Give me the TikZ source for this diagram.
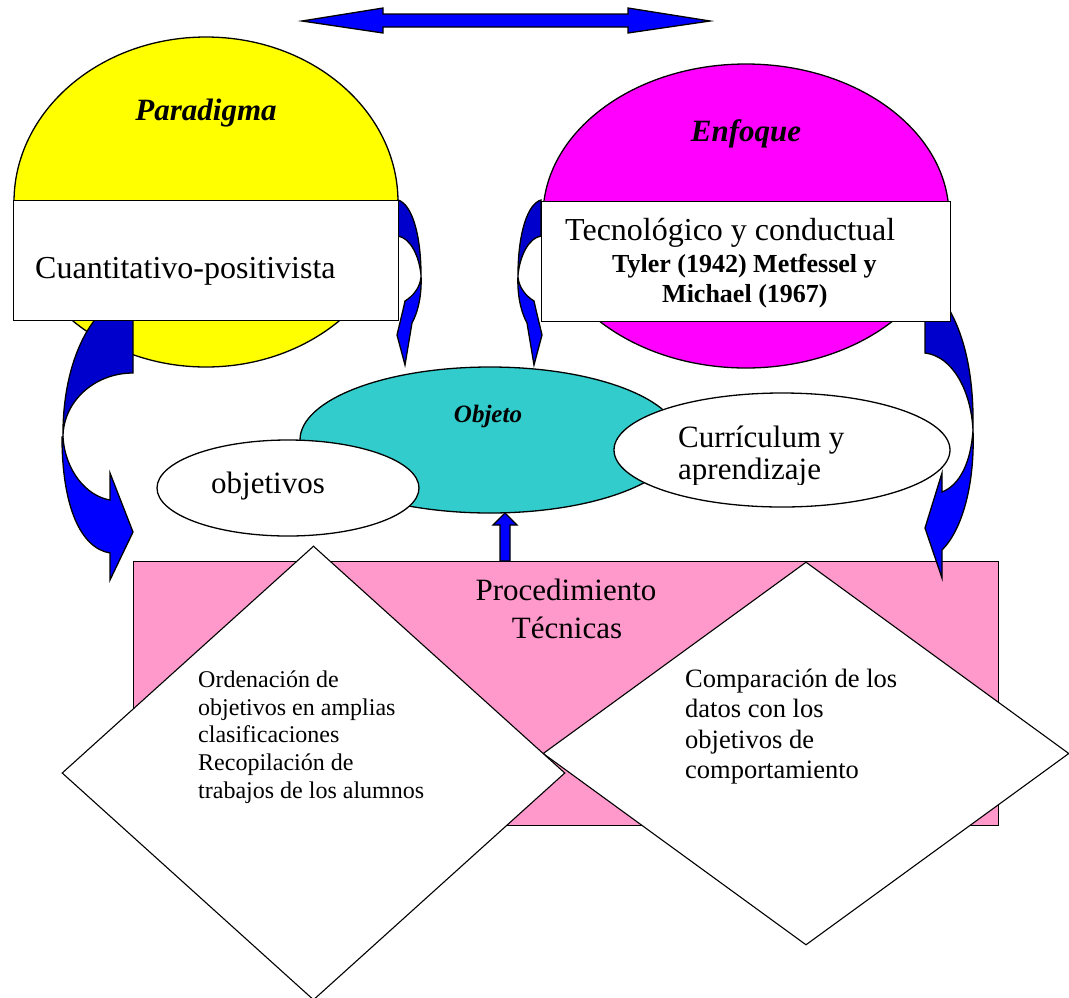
\documentclass[tikz,border=0pt]{standalone}
\usepackage{fontspec}
\setmainfont{Liberation Serif}
\usetikzlibrary{shapes.geometric}
\definecolor{yel}{RGB}{255,255,0}
\definecolor{mag}{RGB}{255,0,255}
\definecolor{tealc}{RGB}{51,204,204}
\definecolor{pinkc}{RGB}{255,153,204}
\definecolor{blu}{RGB}{0,0,255}
\definecolor{dblu}{RGB}{0,0,204}
\newcommand\myfs[1]{\fontsize{#1}{#1}\selectfont}
\begin{document}
\begin{tikzpicture}[x=1pt,y=-1pt,line join=miter,
  outl/.style={draw=black,line width=1.3pt},
  ell/.style={outl,ellipse,inner sep=0pt},
  box/.style={outl,rectangle,inner sep=0pt,anchor=north west},
  dia/.style={draw=black,line width=1.1pt,diamond,fill=white,inner sep=0pt},
  txt/.style={inner sep=0pt,anchor=base west},
  blk/.style={outl,fill=blu},
  dblk/.style={outl,fill=dblu}]
\useasboundingbox (0,0) rectangle (1069,997);

% top double arrow
\draw[blk] (302,21) -- (383,8) -- (383,14) -- (628,14) -- (628,8) -- (710,21)
  -- (628,33) -- (628,27) -- (383,27) -- (383,33) -- cycle;

% big ellipses
\node[ell,fill=yel,minimum width=384pt,minimum height=330pt] (para) at (206,202) {};
\node[ell,fill=mag,minimum width=406pt,minimum height=304pt] (enf) at (746,216) {};

% pink rectangle
\node[box,fill=pinkc,minimum width=865pt,minimum height=264pt] (proc) at (133,561) {};

% left big curved arrow
\draw[dblk] (133,298) -- (133,373) .. controls (94,373) and (63,402) .. (63,437)
  .. controls (62,360) and (94,298) .. (133,298) -- cycle;
\draw[blk] (63,437) .. controls (65,470) and (86,496) .. (110,500) -- (110,473)
  -- (133,532) -- (110,580) -- (110,553) .. controls (80,548) and (62,505) .. (62,437) -- cycle;

% right big curved arrow
\draw[dblk] (925,310) -- (925,353) .. controls (952,356) and (971,390) .. (973,430)
  .. controls (974,380) and (966,340) .. (950,311) -- cycle;
\draw[blk] (973,430) .. controls (971,462) and (960,485) .. (942,492) -- (942,473)
  -- (925,528) -- (942,578) -- (942,550) .. controls (962,530) and (975,485) .. (973,430) -- cycle;

% small left arrow
\draw[dblk] (398,200) .. controls (412,204) and (421,235) .. (421,275)
  .. controls (419,255) and (410,238) .. (398,236) -- cycle;
\draw[blk] (421,275) .. controls (422,295) and (418,312) .. (412,323) -- (405,365)
  -- (397,335) -- (403,310) -- (405,301) .. controls (413,296) and (420,288) .. (421,277) -- cycle;

% small right arrow
\draw[dblk] (541,200) .. controls (527,204) and (518,235) .. (518,275)
  .. controls (520,255) and (529,238) .. (541,236) -- cycle;
\draw[blk] (518,275) .. controls (517,295) and (521,312) .. (527,323) -- (534,365)
  -- (542,335) -- (536,310) -- (534,301) .. controls (526,296) and (519,288) .. (518,277) -- cycle;

% rectangles
\node[box,fill=white,minimum width=385pt,minimum height=120pt] (cuan) at (13,200) {};
\node[box,fill=white,minimum width=409pt,minimum height=120pt] (tec) at (541,201) {};

% middle ellipses
\node[ell,fill=tealc,minimum width=380pt,minimum height=146pt] (obj) at (490,440) {};
\node[ell,fill=white,minimum width=262pt,minimum height=96pt] (objv) at (288,488) {};
\node[ell,fill=white,minimum width=336pt,minimum height=114pt] (cur) at (782,450) {};

% up arrow
\draw[blk] (505,513) -- (517,525) -- (510,525) -- (510,561) -- (500,561) -- (500,525) -- (493,525) -- cycle;

% diamonds
\node[dia,minimum width=526pt,minimum height=383pt] (dr) at (806,753.5) {};
\node[dia,minimum width=503pt,minimum height=454pt] (dl) at (313.5,773) {};

% texts
\node[txt,anchor=base,font=\myfs{31}\bfseries\itshape] (tpara) at (206,120) {Paradigma};
\node[txt,anchor=base,font=\myfs{31}\bfseries\itshape] (tenf) at (746,141) {Enfoque};
\node[txt,font=\myfs{32}] (tcuan) at (35,278) {Cuantitativo-positivista};
\node[txt,font=\myfs{32}] (ttec) at (565,240) {Tecnológico y conductual};
\node[txt,font=\myfs{26}\bfseries] (ttyl) at (612,272) {Tyler (1942) Metfessel y};
\node[txt,font=\myfs{26}\bfseries] (tmic) at (662,302) {Michael (1967)};
\node[txt,anchor=base,font=\myfs{25}\bfseries\itshape] (tobj) at (488,422) {Objeto};
\node[txt,font=\myfs{31}] (tobjv) at (211,493) {objetivos};
\begin{scope}
\clip (600,380) rectangle (960,484);
\node[txt,font=\myfs{31}] (tcur1) at (678,447) {Currículum y};
\node[txt,font=\myfs{31}] (tcur2) at (678,479) {aprendizaje};
\end{scope}
\node[txt,anchor=base,font=\myfs{31}] (tproc) at (566,600) {Procedimiento};
\node[txt,anchor=base,font=\myfs{31}] (ttecn) at (567,638) {Técnicas};

\node[txt,font=\myfs{24}] (l1) at (198,687) {Ordenación de};
\node[txt,font=\myfs{24}] (l2) at (198,715) {objetivos en amplias};
\node[txt,font=\myfs{24}] (l3) at (198,742) {clasificaciones};
\node[txt,font=\myfs{24}] (l4) at (198,770) {Recopilación de};
\node[txt,font=\myfs{24}] (l5) at (198,798) {trabajos de los alumnos};

\node[txt,font=\myfs{26.5}] (r1) at (685,687) {Comparación de los};
\node[txt,font=\myfs{26.5}] (r2) at (685,717) {datos con los};
\node[txt,font=\myfs{26.5}] (r3) at (685,748) {objetivos de};
\node[txt,font=\myfs{26.5}] (r4) at (685,778) {comportamiento};
\end{tikzpicture}
\end{document}
